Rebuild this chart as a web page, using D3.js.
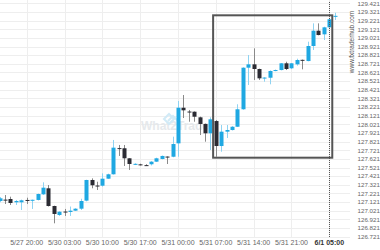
<!DOCTYPE html>
<html>
<head>
<meta charset="utf-8">
<script src="https://cdn.jsdelivr.net/npm/d3@7"></script>
<style>
  body { margin: 0; background: #fff; }
  text { font-family: "Liberation Sans", Arial, sans-serif; }
</style>
</head>
<body>
<div id="chart"></div>
<script>
// hourly candles, index 0 = 5/27 20:00
const idx = d3.range(-5, 58)
const opens  = [127.134,127.150,127.157,127.119,127.119,127.146,127.140,127.146,127.211,127.281,127.076,126.972,127.012,127.007,127.022,127.045,127.138,127.377,127.313,127.311,127.392,127.443,127.746,127.744,127.628,127.558,127.558,127.549,127.559,127.589,127.620,127.648,127.646,127.801,128.213,128.169,128.167,128.102,128.025,127.917,128.059,127.770,127.936,127.955,127.993,128.195,128.676,128.715,128.661,128.556,128.560,128.638,128.649,128.727,128.669,128.715,128.767,128.753,128.927,129.104,129.062,129.143,129.272]
const highs  = [127.180,127.203,127.184,127.146,127.150,127.172,127.150,127.220,127.350,127.319,127.080,127.015,127.042,127.070,127.050,127.160,127.380,127.396,127.357,127.454,127.450,127.840,127.782,127.782,127.630,127.570,127.565,127.560,127.595,127.635,127.660,127.650,127.878,128.291,128.360,128.187,128.170,128.110,128.030,128.102,128.070,128.013,128.013,128.000,128.253,128.680,128.823,128.900,128.665,128.565,128.645,128.655,128.730,128.745,128.730,128.780,128.770,128.977,129.189,129.189,129.150,129.240,129.312]
const lows   = [127.120,127.099,127.088,127.088,127.030,127.099,127.042,127.140,127.205,127.070,126.876,126.961,126.961,126.961,127.018,127.030,127.130,127.281,127.261,127.300,127.390,127.440,127.655,127.539,127.493,127.550,127.545,127.540,127.545,127.585,127.615,127.562,127.640,127.646,128.094,128.051,128.051,127.897,127.820,127.724,127.646,127.704,127.863,127.950,127.990,128.190,128.476,128.534,128.534,128.514,128.484,128.635,128.645,128.649,128.660,128.700,128.657,128.750,128.881,129.050,128.996,129.140,129.228]
const closes = [127.165,127.148,127.111,127.134,127.142,127.144,127.148,127.215,127.288,127.076,126.984,127.010,127.008,127.022,127.045,127.134,127.377,127.316,127.309,127.392,127.443,127.751,127.742,127.628,127.562,127.564,127.555,127.546,127.589,127.628,127.655,127.644,127.793,128.213,128.183,128.165,128.109,128.025,127.917,128.079,127.770,127.936,127.955,127.993,128.195,128.676,128.715,128.661,128.553,128.562,128.638,128.649,128.727,128.661,128.727,128.765,128.763,128.927,129.104,129.054,129.143,129.236,129.276]

const tickIdx = [0, 7, 14, 21, 28, 35, 42, 49, 56]
const tickLabels = ['5/27 20:00', '5/30 03:00', '5/30 10:00', '5/30 17:00', '5/31 00:00', '5/31 07:00', '5/31 14:00', '5/31 21:00', '6/1 05:00']
const yTicks = [126.721,126.821,126.921,127.021,127.121,127.221,127.321,127.421,127.521,127.621,127.721,127.821,127.921,128.021,128.121,128.221,128.321,128.421,128.521,128.621,128.721,128.821,128.921,129.021,129.121,129.221,129.321,129.421]

// breakout box (index range, price range) and current-time marker
const boxIdx = [34.5, 56.55]
const boxPrice = [127.635, 129.282]
const nowIdx = 56

const candles = idx.map((d, i) => ({ i: d, o: opens[i], h: highs[i], l: lows[i], c: closes[i] }))

const W = 380, H = 250
const svg = d3.select('#chart').append('svg').attr('width', W).attr('height', H)

const x = d3.scaleLinear().domain([0, 56]).range([26.7, 329.3])
const y = d3.scaleLinear().domain([126.721, 129.421]).range([236.7, 3.3])

// grid
svg.append('g').selectAll('line').data(yTicks).join('line')
    .attr('x1', 0).attr('x2', 350)
    .attr('y1', d => Math.round(y(d)) + 0.5).attr('y2', d => Math.round(y(d)) + 0.5)
    .attr('stroke', '#eeeeee')
svg.append('g').selectAll('line').data(tickIdx).join('line')
    .attr('x1', d => Math.round(x(d)) + 0.5).attr('x2', d => Math.round(x(d)) + 0.5)
    .attr('y1', 0).attr('y2', 237)
    .attr('stroke', '#eeeeee')

// watermark
const wm = svg.append('g').attr('opacity', 0.9)
wm.append('text').attr('x', 175).attr('y', 130).attr('text-anchor', 'middle')
    .attr('font-size', 12).attr('font-weight', 'bold').attr('fill', '#e4e7ea').text('What2Trade')
wm.append('path').attr('d', 'M164,119 l5,-5 l5,5 l-5,5 z M168,121 l5,-5 l5,5')
    .attr('fill', 'none').attr('stroke', '#cde9f7').attr('stroke-width', 2)

// candles
const up = d => d.c >= d.o
const bw = 4
const g = svg.append('g')
g.selectAll('line').data(candles).join('line')
    .attr('x1', d => Math.round(x(d.i)) + 0.5).attr('x2', d => Math.round(x(d.i)) + 0.5)
    .attr('y1', d => y(d.h)).attr('y2', d => y(d.l))
    .attr('stroke', d => up(d) ? '#8fd3f2' : '#8a8a8a')
g.selectAll('rect').data(candles).join('rect')
    .attr('x', d => Math.round(x(d.i)) - bw / 2 + 0.5)
    .attr('width', bw)
    .attr('y', d => y(Math.max(d.o, d.c)))
    .attr('height', d => Math.max(1, Math.abs(y(d.o) - y(d.c))))
    .attr('fill', d => up(d) ? '#1fa8e2' : '#2b2b33')

// breakout rectangle
svg.append('rect')
    .attr('x', x(boxIdx[0])).attr('width', x(boxIdx[1]) - x(boxIdx[0]))
    .attr('y', y(boxPrice[1])).attr('height', y(boxPrice[0]) - y(boxPrice[1]))
    .attr('fill', 'none').attr('stroke', '#555').attr('stroke-width', 2)

// now marker
svg.append('line')
    .attr('x1', Math.round(x(nowIdx)) + 0.5).attr('x2', Math.round(x(nowIdx)) + 0.5)
    .attr('y1', 2).attr('y2', 237)
    .attr('stroke', '#555').attr('stroke-dasharray', '1,1')

// x labels
svg.append('g').selectAll('text').data(tickIdx).join('text')
    .attr('x', d => x(d)).attr('y', 245).attr('text-anchor', 'middle')
    .attr('font-size', 7).attr('fill', (d, i) => i === tickIdx.length - 1 ? '#333' : '#666')
    .attr('font-weight', (d, i) => i === tickIdx.length - 1 ? 'bold' : 'normal')
    .text((d, i) => tickLabels[i])

// y labels
svg.append('g').selectAll('text').data(yTicks).join('text')
    .attr('x', 357.5).attr('y', d => y(d) + 2.3)
    .attr('font-size', 6.2).attr('fill', '#666')
    .text(d => d.toFixed(3))

// site watermark
svg.append('text').attr('transform', 'translate(354,42) rotate(-90)')
    .attr('text-anchor', 'middle').attr('font-size', 6.5).attr('fill', '#555')
    .text('www.fxtraderhub.com')
</script>
</body>
</html>
